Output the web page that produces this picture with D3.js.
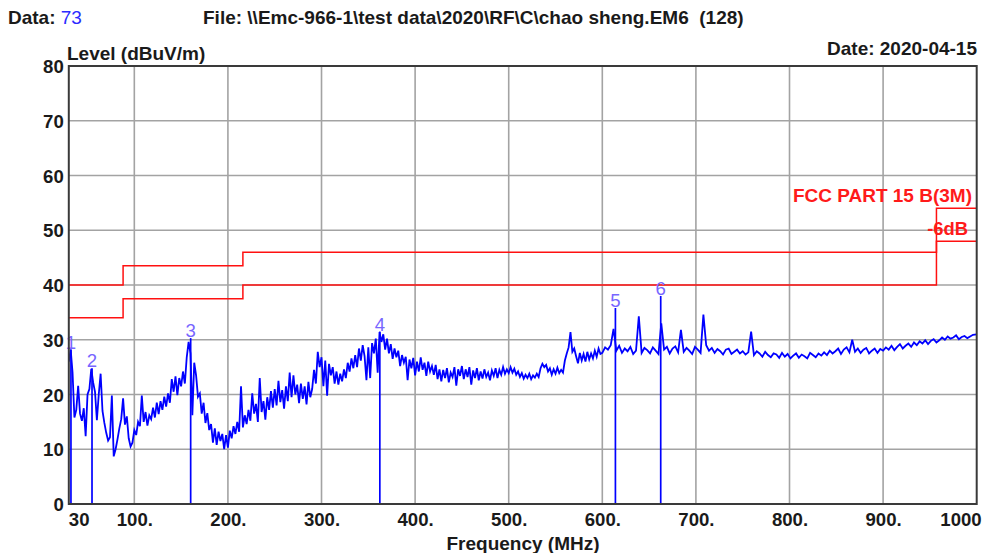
<!DOCTYPE html>
<html>
<head>
<meta charset="utf-8">
<script src="https://cdn.jsdelivr.net/npm/d3@7"></script>
<style>
  html, body { margin: 0; padding: 0; background: #fff; }
  svg { display: block; font-family: "Liberation Sans", Arial, sans-serif; }
</style>
</head>
<body>
<svg id="chart" width="982" height="553"></svg>
<script>
// ---------- data ----------
const yTicks = [0, 10, 20, 30, 40, 50, 60, 70, 80];
const xTicks = [30, 100, 200, 300, 400, 500, 600, 700, 800, 900, 1000];
const xTickLabels = ["30", "100.", "200.", "300.", "400.", "500.", "600.", "700.", "800.", "900.", "1000"];

// FCC Part 15 B (3m) limit and -6 dB margin line (step functions)
const limitFreqs  = [30, 88, 88, 216, 216, 957, 957, 1000];
const limitLevels = [40, 40, 43.5, 43.5, 46, 46, 54, 54];
const marginLevels = [34, 34, 37.5, 37.5, 40, 40, 48, 48];

// Measured trace (MHz / dBuV/m)
const traceFreq = [
  30,32,34,36,38,40,42,44,46,48,
  50,52,54,56,58,60,62,64,66,68,
  70,72,74,76,78,80,82,84,86,88,
  90,92,94,96,98,100,102,104,106,108,
  110,112,114,116,118,120,122,124,126,128,
  130,132,134,136,138,140,142,144,146,148,
  150,152,154,156,158,160,162,164,166,168,
  170,172,174,176,178,180,182,184,186,188,
  190,192,194,196,198,200,202,204,206,208,
  210,212,214,216,218,220,222,224,226,228,
  230,232,234,236,238,240,242,244,246,248,
  250,252,254,256,258,260,262,264,266,268,
  270,272,274,276,278,280,282,284,286,288,
  290,292,294,296,298,300,302,304,306,308,
  310,312,314,316,318,320,322,324,326,328,
  330,332,334,336,338,340,342,344,346,348,
  350,352,354,356,358,360,362,364,366,368,
  370,372,374,376,378,380,382,384,386,388,
  390,392,394,396,398,400,402,404,406,408,
  410,412,414,416,418,420,422,424,426,428,
  430,432,434,436,438,440,442,444,446,448,
  450,452,454,456,458,460,462,464,466,468,
  470,472,474,476,478,480,482,484,486,488,
  490,492,494,496,498,500,502,504,506,508,
  510,512,514,516,518,520,522,524,526,528,
  530,532,534,536,538,540,542,544,546,548,
  550,552,554,556,558,560,562,564,566,568,
  570,572,574,576,578,580,582,584,586,588,
  590,592,594,596,598,
  600,603,606,609,612,615,618,621,624,627,
  630,633,636,639,642,645,648,651,654,657,
  660,663,666,669,672,675,678,681,684,687,
  690,693,696,699,702,705,708,711,714,717,
  720,723,726,729,732,735,738,741,744,747,
  750,753,756,759,762,765,768,771,774,777,
  780,783,786,789,792,795,798,801,804,807,
  810,813,816,819,822,825,828,831,834,837,
  840,843,846,849,852,855,858,861,864,867,
  870,873,876,879,882,885,888,891,894,897,
  900,903,906,909,912,915,918,921,924,927,
  930,933,936,939,942,945,948,951,954,957,
  960,963,966,969,972,975,978,981,984,987,
  990,993,996,1000
];
const traceLevel = [
  26.0,28.2,24.0,15.8,17.2,21.6,16.5,15.2,17.5,12.4,
  20.0,21.0,24.7,22.2,20.5,15.3,20.0,23.8,17.0,14.8,
  13.0,11.6,12.2,19.8,8.7,10.0,11.8,13.8,15.5,19.3,
  14.5,16.0,12.0,10.5,11.2,13.5,12.6,15.0,14.2,19.8,
  15.0,16.8,14.3,16.2,15.5,17.6,15.8,18.5,16.4,18.8,
  17.2,19.6,17.8,20.2,18.5,22.8,20.5,23.3,19.9,23.0,
  21.5,24.2,22.0,26.8,29.6,27.5,16.2,25.8,23.5,19.6,
  20.2,16.5,18.5,14.8,16.6,13.5,14.6,11.2,13.8,10.8,
  13.2,11.5,12.8,10.0,12.6,10.3,13.4,12.0,14.2,12.8,
  15.0,13.2,21.5,14.0,16.2,14.6,17.2,15.2,20.2,16.5,
  18.3,15.0,23.0,16.8,18.8,15.4,19.5,17.2,20.6,17.6,
  21.0,18.0,22.5,18.6,20.8,17.4,21.5,18.8,24.0,19.5,
  23.5,20.0,21.8,18.4,22.0,19.2,21.5,18.2,22.3,19.5,
  21.0,24.5,22.0,27.8,25.0,26.8,21.5,26.2,19.8,25.6,
  23.5,25.0,22.0,24.2,21.8,23.8,22.4,24.6,23.0,25.8,
  24.2,26.6,24.8,27.2,25.0,28.4,26.2,29.0,27.0,22.6,
  28.6,23.0,29.4,27.5,30.2,24.0,31.4,29.6,31.0,28.2,
  30.2,27.5,29.2,26.5,28.4,26.8,28.0,25.2,27.2,25.8,
  26.9,22.6,26.4,24.8,26.7,23.5,26.0,24.2,26.8,24.5,
  25.8,23.4,26.0,24.2,25.2,23.6,25.4,22.8,24.6,22.4,
  24.5,23.0,24.8,22.2,24.0,23.2,25.0,21.6,24.6,23.4,
  25.2,22.8,24.6,23.2,25.0,21.8,24.4,23.0,24.8,22.6,
  24.2,22.9,24.6,23.2,24.0,22.6,24.4,23.4,24.8,23.0,
  24.5,23.6,25.0,23.8,24.6,23.9,25.0,24.0,24.7,23.6,
  24.2,23.2,23.9,22.9,23.6,23.0,23.8,22.8,23.5,23.1,
  23.8,23.2,24.8,25.6,25.0,25.4,24.2,24.8,23.6,24.6,
  23.8,24.9,23.9,24.5,24.0,26.2,27.5,28.6,31.4,27.8,
  28.4,27.0,25.7,27.6,26.2,27.4,26.0,27.8,26.4,27.5,
  26.6,28.0,26.9,28.4,27.4,
  27.6,28.6,28.2,29.0,32.0,28.0,28.9,27.6,28.4,27.9,
  28.7,27.4,28.0,34.3,27.6,28.5,28.1,27.5,28.6,28.0,
  27.4,33.0,28.2,28.7,27.5,28.4,28.8,27.7,31.8,27.8,
  28.5,28.0,27.4,28.7,28.2,27.6,34.6,29.0,28.0,28.5,
  27.6,28.3,27.9,27.3,28.2,28.4,27.4,27.8,28.2,27.5,
  27.9,27.3,27.7,31.5,27.2,27.9,27.5,26.9,27.8,27.2,
  26.8,27.5,27.3,26.7,27.6,26.9,27.4,26.6,27.1,27.5,
  26.7,27.3,27.0,26.6,27.6,27.2,26.8,27.5,27.1,27.7,
  27.2,28.0,27.5,27.9,28.4,27.4,28.2,28.6,27.7,30.0,
  27.8,28.4,27.6,28.2,28.5,27.5,28.0,28.4,27.6,28.3,
  28.0,28.6,28.2,28.9,28.1,28.7,29.2,28.4,28.9,29.3,
  28.7,29.5,29.0,29.7,29.3,29.9,29.2,29.8,30.1,29.5,
  29.9,30.4,30.0,30.6,30.2,30.4,30.8,30.1,30.5,30.7,
  30.3,30.6,30.9,31.0
];

// Markers
const markerLabels = ["1", "2", "3", "4", "5", "6"];
const markerFreqs  = [32.3, 54.8, 160.2, 362.3, 614.0, 662.4];
const markerLevels = [28.2, 24.8, 30.3, 31.5, 35.8, 38.0];

// ---------- drawing ----------
const svg = d3.select("#chart");
const L = 68.8, R = 976.7, T = 66, B = 504;
const x = d3.scaleLinear().domain([30, 1000]).range([L, R]);
const y = d3.scaleLinear().domain([0, 80]).range([B, T]);
const FONT = 19;
const TICKFONT = 18.6;

// grid
const grid = svg.append("g");
grid.selectAll("line.v").data(xTicks.slice(1, -1)).join("line")
  .attr("x1", d => x(d)).attr("x2", d => x(d)).attr("y1", T).attr("y2", B)
  .attr("stroke", "#a3a3a3").attr("stroke-width", 1.6);
grid.selectAll("line.h").data(yTicks.slice(1, -1)).join("line")
  .attr("x1", L).attr("x2", R).attr("y1", d => y(d)).attr("y2", d => y(d))
  .attr("stroke", "#a3a3a3").attr("stroke-width", 1.6);

// limit lines
const lineGen = d3.line().x(d => x(d[0])).y(d => y(d[1]));
svg.append("path").datum(limitFreqs.map((f, i) => [f, limitLevels[i]]))
  .attr("d", lineGen).attr("fill", "none").attr("stroke", "#ff1010").attr("stroke-width", 1.5);
svg.append("path").datum(limitFreqs.map((f, i) => [f, marginLevels[i]]))
  .attr("d", lineGen).attr("fill", "none").attr("stroke", "#ff1010").attr("stroke-width", 1.5);

// trace
svg.append("path").datum(traceFreq.map((f, i) => [f, traceLevel[i]]))
  .attr("d", lineGen).attr("fill", "none").attr("stroke", "#0000ff")
  .attr("stroke-width", 1.8).attr("stroke-linejoin", "miter");

// marker lines + labels
const mk = svg.append("g");
mk.selectAll("line").data(markerFreqs).join("line")
  .attr("x1", d => x(d)).attr("x2", d => x(d))
  .attr("y1", B).attr("y2", (d, i) => y(markerLevels[i]))
  .attr("stroke", "#0000ff").attr("stroke-width", 1.7);
mk.selectAll("text").data(markerFreqs).join("text")
  .attr("x", d => x(d)).attr("y", (d, i) => y(markerLevels[i]) - 1)
  .attr("text-anchor", "middle").attr("font-size", 18.6)
  .attr("fill", "#7866ff").text((d, i) => markerLabels[i]);

// frame
svg.append("rect").attr("x", L).attr("y", T).attr("width", R - L).attr("height", B - T)
  .attr("fill", "none").attr("stroke", "#3a3a3a").attr("stroke-width", 2);

// axes
const yAxis = d3.axisLeft(y).tickValues(yTicks).tickSize(0).tickPadding(5);
const gy = svg.append("g").attr("transform", `translate(${L},0)`).call(yAxis);
gy.select(".domain").remove();
gy.selectAll("text").attr("font-size", TICKFONT).attr("font-weight", "bold")
  .attr("fill", "#1a1a1a").attr("font-family", "Liberation Sans, Arial, sans-serif")
  .attr("dy", "0.36em");

const lastTick = xTicks.length - 1;
const xAxis = d3.axisBottom(x).tickValues(xTicks).tickSize(0).tickPadding(9)
  .tickFormat((d, i) => xTickLabels[i]);
const gx = svg.append("g").attr("transform", `translate(0,${B})`).call(xAxis);
gx.select(".domain").remove();
gx.selectAll("text").attr("font-size", TICKFONT).attr("font-weight", "bold")
  .attr("fill", "#1a1a1a").attr("font-family", "Liberation Sans, Arial, sans-serif")
  .attr("text-anchor", (d, i) => i === 0 ? "start" : (i === lastTick ? "end" : "middle"))
  .attr("dx", (d, i) => i === 0 ? -0.5 : (i === lastTick ? 4.5 : 0));

// texts
const txt = (xx, yy, s, opts = {}) => svg.append("text")
  .attr("x", xx).attr("y", yy).attr("font-size", opts.size || FONT)
  .attr("font-weight", opts.weight || "bold").attr("fill", opts.fill || "#1a1a1a")
  .attr("text-anchor", opts.anchor || "start").style("white-space", "pre").text(s);

const d1 = txt(8, 24, "Data: ");
d1.append("tspan").attr("fill", "#2b2bff").attr("font-weight", "normal").text("73");
txt(203, 24, "File: \\\\Emc-966-1\\test data\\2020\\RF\\C\\chao sheng.EM6  (128)");
txt(67, 60, "Level (dBuV/m)");
txt(977, 55, "Date: 2020-04-15", { anchor: "end" });
txt(523, 550, "Frequency (MHz)", { anchor: "middle" });
txt(972, 202, "FCC PART 15 B(3M)", { anchor: "end", fill: "#ff1a1a" });
txt(968, 235, "-6dB", { anchor: "end", fill: "#ff1a1a", size: 18.4 });
</script>
</body>
</html>
